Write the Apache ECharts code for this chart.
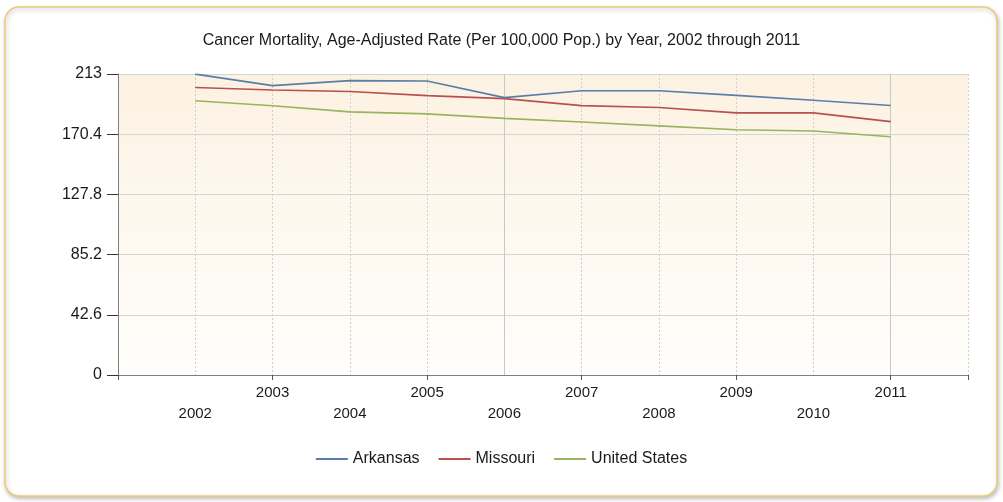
<!DOCTYPE html>
<html>
<head>
<meta charset="utf-8">
<script src="https://cdn.jsdelivr.net/npm/echarts@6/dist/echarts.min.js"></script>
<style>
html,body{margin:0;padding:0;background:#fff;}
#chart{width:1003px;height:502px;}
</style>
</head>
<body>
<div id="chart"></div>
<script>
// ---- Data ----
var axisYears = ['2001','2002','2003','2004','2005','2006','2007','2008','2009','2010','2011','2012'];
var years = ['2002','2003','2004','2005','2006','2007','2008','2009','2010','2011'];
var arkansas = [212.9, 204.8, 208.3, 208.0, 196.3, 201.2, 201.2, 197.9, 194.4, 190.7];
var missouri = [203.5, 201.7, 200.6, 197.7, 195.6, 190.6, 189.3, 185.5, 185.5, 179.3];
var unitedStates = [194.1, 190.5, 186.2, 184.8, 181.6, 179.0, 176.3, 173.5, 172.7, 168.6];
var yTicks = [0, 42.6, 85.2, 127.8, 170.4, 213];
var majorYears = ['2006', '2011'];
var titleText = 'Cancer Mortality, Age-Adjusted Rate (Per 100,000 Pop.) by Year, 2002 through 2011';

function pairs(vals){ return years.map(function(y,i){ return [y, vals[i]]; }); }

var chart = echarts.init(document.getElementById('chart'));
var font = 'Liberation Sans, Arial, sans-serif';
var lineW = 1.6;

var option = {
  animation: false,
  backgroundColor: 'transparent',
  graphic: [{
    type: 'rect',
    z: -10,
    shape: {x: 5, y: 7, width: 992, height: 489, r: 14},
    style: {fill: '#ffffff', stroke: '#eccb7a', lineWidth: 1.5,
            shadowBlur: 4, shadowOffsetX: 1, shadowOffsetY: 2, shadowColor: 'rgba(0,0,0,0.25)'}
  }],
  title: {
    text: titleText,
    left: 'center',
    top: 28,
    textStyle: {fontFamily: font, fontSize: 16, fontWeight: 'normal', color: '#1a1a1a'}
  },
  legend: {
    bottom: 30,
    left: 'center',
    itemWidth: 32,
    itemHeight: 2,
    itemGap: 19,
    icon: 'rect',
    textStyle: {fontFamily: font, fontSize: 16, color: '#1a1a1a'},
    data: ['Arkansas', 'Missouri', 'United States']
  },
  grid: {
    left: 118, right: 35, top: 74, bottom: 127,
    show: true,
    borderWidth: 0,
    backgroundColor: {
      type: 'linear', x: 0, y: 0, x2: 0, y2: 1,
      colorStops: [{offset: 0, color: '#fcf2e2'}, {offset: 1, color: '#fffefc'}]
    }
  },
  xAxis: {
    type: 'category',
    data: axisYears,
    boundaryGap: false,
    axisLine: {show: true, lineStyle: {color: '#7f7f7f', width: 1}},
    axisTick: {show: true, interval: 1, length: 5, lineStyle: {color: '#555'}},
    axisLabel: {
      interval: 0,
      margin: 7,
      fontFamily: font, fontSize: 15, color: '#1a1a1a', lineHeight: 21,
      formatter: function(v){
        var n = parseInt(v, 10);
        if (years.indexOf(v) < 0) return '';
        return (n % 2 === 1) ? v : '\n' + v;
      }
    },
    splitLine: {show: true, interval: 0, lineStyle: {color: '#cfcfcf', type: [2, 2], width: 1}}
  },
  yAxis: {
    type: 'value',
    min: 0, max: 213, interval: 42.6,
    axisLine: {show: true, lineStyle: {color: '#7f7f7f', width: 1}},
    axisTick: {show: true, length: 11, lineStyle: {color: '#333'}},
    axisLabel: {
      margin: 16,
      fontFamily: font, fontSize: 16, color: '#1a1a1a',
      formatter: function(v){ return String(Number(v.toFixed(1))); }
    },
    splitLine: {show: true, lineStyle: {color: '#d4d4d4', width: 1}}
  },
  series: [
    {
      name: 'Arkansas', type: 'line', data: pairs(arkansas),
      symbol: 'none', lineStyle: {width: lineW, color: '#5a7da8'}, itemStyle: {color: '#5a7da8'},
      z: 5,
      markLine: {
        silent: true, symbol: 'none', label: {show: false},
        lineStyle: {color: '#c8c8c8', type: 'solid', width: 1},
        data: majorYears.map(function(y){ return {xAxis: y}; }),
        z: 1
      }
    },
    {
      name: 'Missouri', type: 'line', data: pairs(missouri),
      symbol: 'none', lineStyle: {width: lineW, color: '#b8504f'}, itemStyle: {color: '#b8504f'}, z: 4
    },
    {
      name: 'United States', type: 'line', data: pairs(unitedStates),
      symbol: 'none', lineStyle: {width: lineW, color: '#98b45c'}, itemStyle: {color: '#98b45c'}, z: 3
    }
  ]
};
chart.setOption(option);
</script>
</body>
</html>
